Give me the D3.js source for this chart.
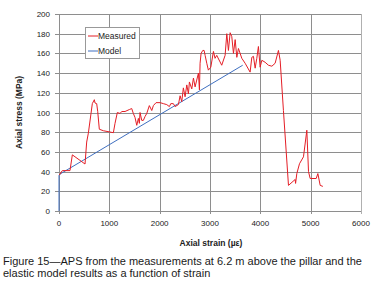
<!DOCTYPE html>
<html>
<head>
<meta charset="utf-8">
<script src="https://cdn.jsdelivr.net/npm/d3@7.9.0/dist/d3.min.js"></script>
<style>
  html, body { margin: 0; padding: 0; background: #fff; }
  svg { display: block; }
  text { font-family: "Liberation Sans", Arial, sans-serif; fill: #222; }
</style>
</head>
<body>
<svg id="chart" width="384" height="289"></svg>
<script>
// ---- data ----
const xTicks = [0, 1000, 2000, 3000, 4000, 5000, 6000];
const yTicks = [0, 20, 40, 60, 80, 100, 120, 140, 160, 180, 200];

const measuredStrain = [6, 66, 218, 265, 517, 550, 583, 636, 662, 702, 716, 749, 769, 801, 881, 1080, 1113, 1159, 1213, 1246,
  1312, 1398, 1445, 1477, 1510, 1545, 1577, 1597, 1610, 1644, 1676, 1710, 1743, 1795, 1843, 1875, 1928, 2008, 2074, 2141,
  2193, 2221, 2272, 2306, 2372, 2406, 2439, 2471, 2505, 2539, 2571, 2591, 2638, 2671, 2704, 2770, 2790, 2803, 2823, 2857,
  2883, 2903, 2936, 2968, 3016, 3068, 3100, 3134, 3233, 3300, 3334, 3366, 3400, 3433, 3466, 3500, 3533, 3565, 3632, 3698,
  3797, 3831, 3863, 3897, 3930, 3962, 3996, 4030, 4095, 4161, 4229, 4294, 4360, 4394, 4459, 4559, 4692, 4700, 4725, 4778,
  4857, 4924, 4957, 4990, 5110, 5143, 5189, 5242];
const measuredStress = [36.5, 41, 41, 57, 47.7, 70, 79, 99, 109, 113, 109.6, 109, 101, 83, 81.5, 79.5, 89, 100, 99, 101,
  101, 103, 104, 99, 95, 87, 94, 89, 100, 92, 92, 96, 99, 107, 102, 107, 110, 110, 109, 108,
  106, 109, 109, 106, 108, 117, 111, 125, 116, 128, 119, 131, 124, 135, 126, 140, 123, 150, 160, 163,
  163, 158, 150, 143, 146, 162, 155, 158, 148, 158, 180, 163, 181, 177, 160, 174, 156, 165, 155, 150,
  141, 156, 157, 145, 155, 167, 146, 153, 151, 148, 147, 150, 163, 153, 102, 26, 32, 28, 38, 48,
  55, 82, 40, 33, 33, 38, 26, 25];

const modelStrain = [0, 0, 20, 3650];
const modelStress = [0, 36, 37.5, 148];

// ---- layout ----
const svg = d3.select('#chart');
const plotL = 59, plotR = 361, plotT = 14, plotB = 211;

const x = d3.scaleLinear().domain([0, 6000]).range([plotL, plotR]);
const y = d3.scaleLinear().domain([0, 200]).range([plotB, plotT]);

// gridlines (+ small outer ticks on the left and bottom)
svg.append('g')
  .selectAll('line')
  .data(yTicks)
  .enter().append('line')
    .attr('x1', d => d === 0 ? plotL - 4 : plotL - 4).attr('x2', plotR)
    .attr('y1', d => Math.round(y(d)) + 0.5).attr('y2', d => Math.round(y(d)) + 0.5)
    .attr('stroke', '#8e8e8e').attr('stroke-width', 1);

svg.append('g')
  .selectAll('line')
  .data(xTicks)
  .enter().append('line')
    .attr('y1', plotT).attr('y2', plotB + 3)
    .attr('x1', d => Math.round(x(d)) + 0.5).attr('x2', d => Math.round(x(d)) + 0.5)
    .attr('stroke', d => d === 6000 ? '#b0b0b0' : '#8e8e8e').attr('stroke-width', 1);

// tick labels
svg.append('g')
  .selectAll('text')
  .data(yTicks)
  .enter().append('text')
    .attr('x', plotL - 9)
    .attr('y', d => y(d) + 3)
    .attr('text-anchor', 'end')
    .style('font-size', '8px')
    .text(d => d);

svg.append('g')
  .selectAll('text')
  .data(xTicks)
  .enter().append('text')
    .attr('x', d => x(d))
    .attr('y', plotB + 14.5)
    .attr('text-anchor', 'middle')
    .style('font-size', '8px')
    .text(d => d);

// axis titles
svg.append('text')
  .attr('x', 211).attr('y', 246)
  .attr('text-anchor', 'middle')
  .style('font-size', '8.5px').style('font-weight', 'bold')
  .text('Axial strain (µε)');

svg.append('text')
  .attr('transform', `translate(22,${(plotT + plotB) / 2}) rotate(-90)`)
  .attr('text-anchor', 'middle')
  .style('font-size', '8.5px').style('font-weight', 'bold')
  .text('Axial stress (MPa)');

// series
const line = d3.line().x(d => x(d[0])).y(d => y(d[1]));

svg.append('path')
  .datum(d3.zip(modelStrain, modelStress))
  .attr('d', line)
  .attr('fill', 'none')
  .attr('stroke', '#3f6fc0')
  .attr('stroke-width', 1);

svg.append('path')
  .datum(d3.zip(measuredStrain, measuredStress))
  .attr('d', line)
  .attr('fill', 'none')
  .attr('stroke', '#e41e26')
  .attr('stroke-width', 1);

// legend
const lg = svg.append('g');
lg.append('rect')
  .attr('x', 85.5).attr('y', 27.5).attr('width', 54).attr('height', 31)
  .attr('fill', '#fff').attr('stroke', '#999');
const legendItems = [['Measured', '#e41e26'], ['Model', '#3f6fc0']];
legendItems.forEach(([name, col], i) => {
  const ly = 36 + i * 15;
  lg.append('line')
    .attr('x1', 88).attr('x2', 98).attr('y1', ly).attr('y2', ly)
    .attr('stroke', col).attr('stroke-width', 1);
  lg.append('text')
    .attr('x', 98).attr('y', ly + 3)
    .style('font-size', '8.5px')
    .text(name);
});

// caption
const caption = [
  'Figure 15\u2014APS from the measurements at 6.2 m above the pillar and the',
  'elastic model results as a function of strain'
];
svg.append('g')
  .selectAll('text')
  .data(caption)
  .enter().append('text')
    .attr('x', 3)
    .attr('y', (d, i) => 265 + i * 11.5)
    .style('font-size', '11px')
    .style('fill', '#1a1a1a')
    .text(d => d);
</script>
</body>
</html>
